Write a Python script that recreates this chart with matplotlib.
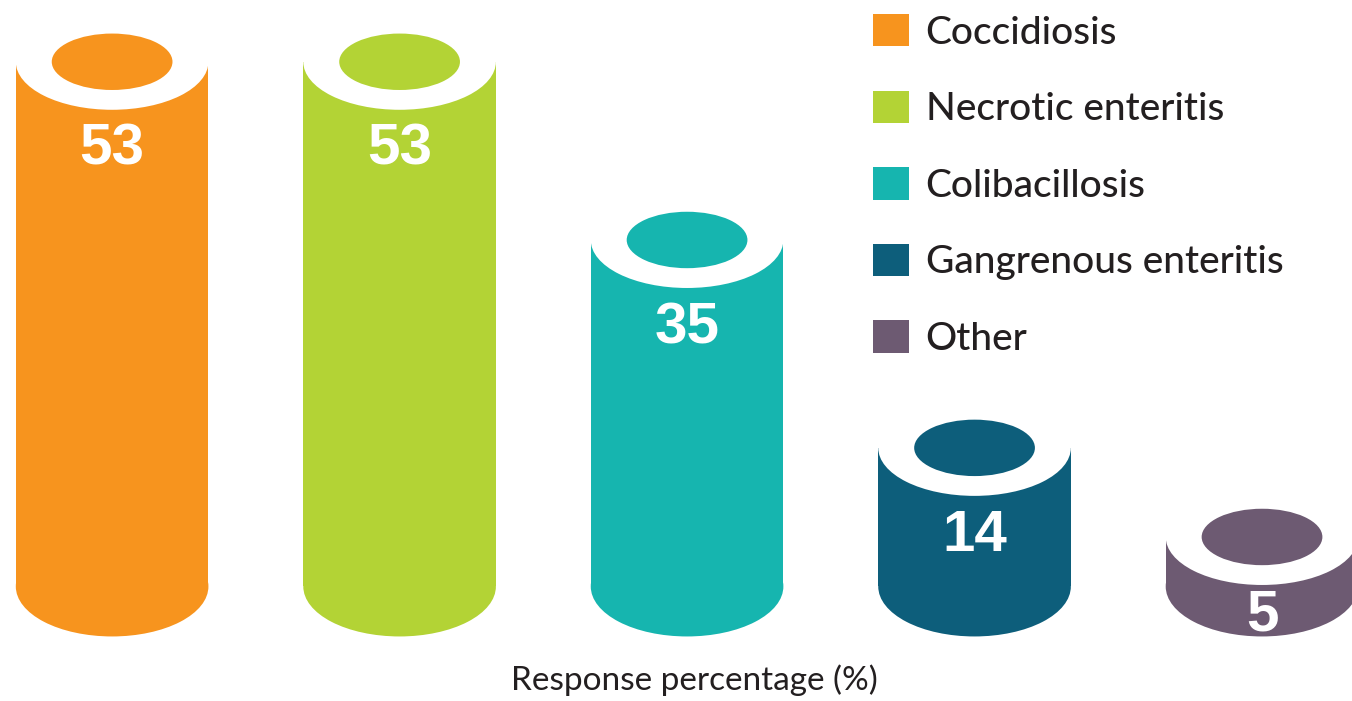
import matplotlib
matplotlib.use("Agg")
import matplotlib.pyplot as plt
from matplotlib.patches import Rectangle, Ellipse, Patch

# survey results
diseases = ["Coccidiosis", "Necrotic enteritis", "Colibacillosis",
            "Gangrenous enteritis", "Other"]
responses = [53, 53, 35, 14, 5]
colours = ["#F7941E", "#B3D335", "#16B5AF", "#0D5E7B", "#6D5A72"]

body_w = 0.67      # cylinder width (x units)
hole_w = 0.42      # inner ellipse width
cap_h = 4.85       # half height of the white rim (y units)
hole_h = 2.85      # half height of the coloured hole
base_h = 5.05      # half height of the rounded bottom


fig = plt.figure(figsize=(13.52, 7.01), dpi=100)
ax = fig.add_axes([0, 0, 1, 1])
ax.set_xlim(-0.39, 4.313)
ax.set_ylim(-11.57, 59.24)
ax.axis("off")

for i in range(len(responses)):
    v = responses[i]
    c = colours[i]
    # body and rounded base
    ax.add_patch(Rectangle((i - body_w/2, 0), body_w, v, color=c, lw=0))
    ax.add_patch(Ellipse((i, 0), body_w, 2*base_h, color=c, lw=0))
    # white rim with the coloured opening
    ax.add_patch(Ellipse((i, v), body_w, 2*cap_h, color="white", lw=0))
    ax.add_patch(Ellipse((i, v), hole_w, 2*hole_h, color=c, lw=0))
    ax.text(i, max(v - 8.9, -2.9), str(v), color="white", ha="center",
            va="center", fontsize=42, fontweight="bold",
            family=["Liberation Sans", "DejaVu Sans"])

handles = [Patch(facecolor=colours[i], label=diseases[i]) for i in range(len(diseases))]
ax.legend(handles=handles, loc="upper left", bbox_to_anchor=(873/1352, 1 - 14/701),
          frameon=False, handlelength=0.93, handleheight=0.9,
          handletextpad=0.42, labelspacing=1.03, borderpad=0, borderaxespad=0,
          labelcolor="#231F20",
          prop={"family": ["Lato", "DejaVu Sans"], "size": 28, "weight": "medium"})

ax.text(694/1352, 1 - 680/701, "Response percentage (%)", transform=ax.transAxes,
        ha="center", va="center", fontsize=24, color="#231F20",
        family=["Lato", "DejaVu Sans"])

fig.savefig("out.png", dpi=100, facecolor="white")
